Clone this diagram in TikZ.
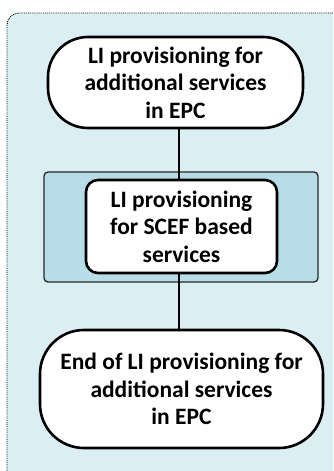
\documentclass[tikz,border=0pt]{standalone}
\usepackage{fontspec}
\setmainfont{Carlito}
\usetikzlibrary{positioning}

\definecolor{paleblue}{HTML}{DAEEF3}
\definecolor{bandblue}{HTML}{B7DEE8}

\tikzset{
  stadium/.style={draw, line width=2.6pt, fill=white, align=center,
    font=\bfseries\fontsize{23.5}{27.5}\selectfont, inner sep=0pt},
  bandbox/.style={draw=black!85, line width=1.3pt, fill=bandblue,
    rounded corners=4pt, inner sep=0pt},
  conn/.style={line width=2.4pt}
}

\begin{document}
\begin{tikzpicture}[x=1pt, y=-1pt]
  \useasboundingbox (0,0) rectangle (333,471);
  \clip (0,0) rectangle (333,471);

  % Hintergrund
  \draw[densely dotted, line width=0.9pt, fill=paleblue, rounded corners=12pt]
    (7,13) rectangle (350,490);

  % Band fuer SCEF
  \node[bandbox, minimum width=274pt, minimum height=110pt] (band) at (181,227) {};

  % Start und Ende
  \node[stadium, rounded corners=40pt, minimum width=255pt, minimum height=91pt]
    (start) at (175.5,82.5) {LI provisioning for\\additional services\\in EPC};
  \node[stadium, rounded corners=44pt, minimum width=283pt, minimum height=118pt]
    (stop) at (181.5,389) {End of LI provisioning for\\additional services\\in EPC};

  % Verbindung
  \coordinate (spine) at (179,0);
  \draw[conn] (start.south -| spine) -- (stop.north -| spine);

  % Schritt
  \node[stadium, rounded corners=12pt, minimum width=191pt, minimum height=93pt]
    (scef) at (181.5,226.5) {LI provisioning\\for SCEF based\\services};
\end{tikzpicture}
\end{document}
